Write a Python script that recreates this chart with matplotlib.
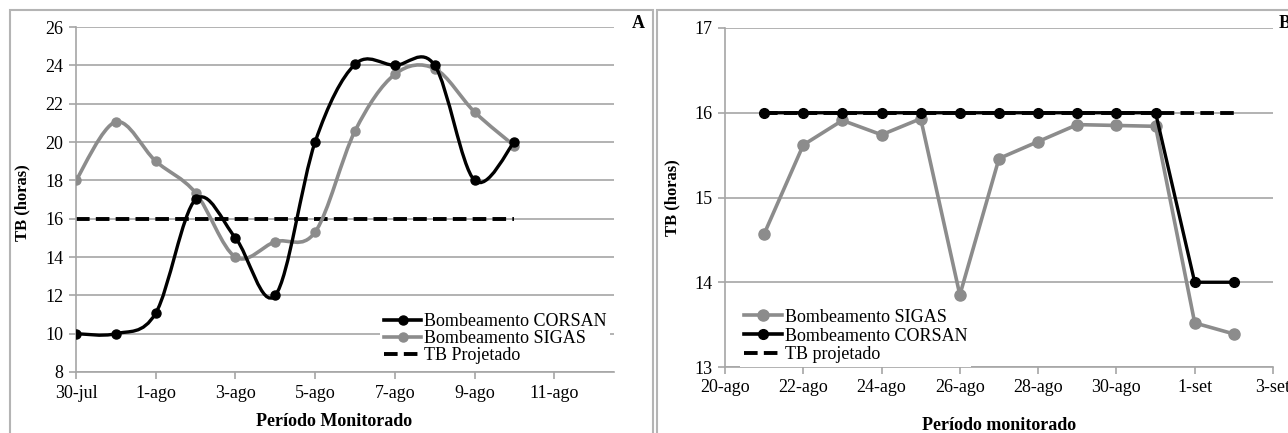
import numpy as np
import matplotlib
matplotlib.use("Agg")
import matplotlib.pyplot as plt
from matplotlib.path import Path
from matplotlib.patches import PathPatch, Rectangle
from matplotlib.lines import Line2D

plt.rcParams["font.family"] = ["Liberation Serif", "DejaVu Serif"]

# Panel A: 30-jul .. 10-ago (day index from 30-jul)
days_a = np.arange(12)
corsan_a = [10, 10, 11.07, 17.0, 15.0, 12.0, 20.0, 24.05, 24.0, 24.0, 18.0, 20.0]
sigas_a = [18.0, 21.05, 19.0, 17.35, 14.0, 14.8, 15.3, 20.57, 23.53, 23.83, 21.57, 19.8]
proj_a = [16] * 12
ticks_a = ["30-jul", "1-ago", "3-ago", "5-ago", "7-ago", "9-ago", "11-ago"]

# Panel B: 21-ago .. 2-set (day index from 20-ago)
days_b = np.arange(1, 14)
sigas_b = [14.57, 15.62, 15.91, 15.74, 15.93, 13.85, 15.46, 15.66, 15.86, 15.85, 15.84, 13.52, 13.39]
corsan_b = [16] * 11 + [14, 14]
proj_b = [16] * 13
ticks_b = ["20-ago", "22-ago", "24-ago", "26-ago", "28-ago", "30-ago", "1-set", "3-set"]

BLACK = "#000000"
GRAY = "#8c8c8c"
GRID = "#a6a6a6"
FS = 13
DASH = (0, (3.5, 1.6))

W, H = 1288, 433
fig = plt.figure(figsize=(W / 100, H / 100), dpi=100)


def box(x0, y0, x1, y1):
    return [x0 / W, 1 - y1 / H, (x1 - x0) / W, (y1 - y0) / H]


def smooth_path(xs, ys):
    # Excel-style smoothed line: cubic Bezier through the points
    pts = np.column_stack([xs, ys]).astype(float)
    n = len(pts)
    verts = [tuple(pts[0])]
    codes = [Path.MOVETO]
    for i in range(n - 1):
        p_prev = pts[i - 1] if i > 0 else pts[i]
        p_next = pts[i + 2] if i + 2 < n else pts[i + 1]
        c1 = pts[i] + (pts[i + 1] - p_prev) / 6.0
        c2 = pts[i + 1] - (p_next - pts[i]) / 6.0
        verts += [tuple(c1), tuple(c2), tuple(pts[i + 1])]
        codes += [Path.CURVE4] * 3
    return Path(verts, codes)


def style_axes(ax):
    for s in ["top", "right"]:
        ax.spines[s].set_visible(False)
    for s in ["left", "bottom"]:
        ax.spines[s].set_color(GRID)
        ax.spines[s].set_linewidth(1.2)
    ax.grid(axis="y", color=GRID, linewidth=1.2)
    ax.set_axisbelow(True)
    ax.tick_params(axis="both", direction="out", length=5, width=1.2, color=GRID,
                   labelsize=FS, pad=4)


# ---- Panel A
ax1 = fig.add_axes(box(76, 27, 614, 372))
style_axes(ax1)
ax1.plot(days_a, proj_a, color=BLACK, lw=2.8, ls=DASH, zorder=2)
ax1.add_patch(PathPatch(smooth_path(days_a, sigas_a), facecolor="none", edgecolor=GRAY, lw=2.6, zorder=3))
ax1.plot(days_a, sigas_a, "o", color=GRAY, ms=6.5, zorder=3)
ax1.add_patch(PathPatch(smooth_path(days_a, corsan_a), facecolor="none", edgecolor=BLACK, lw=2.4, zorder=4))
ax1.plot(days_a, corsan_a, "o", color=BLACK, ms=6.5, zorder=4)
ax1.set_xlim(0, 13.5)
ax1.set_ylim(8, 26)
ax1.set_yticks(np.arange(8, 27, 2))
ax1.set_xticks(np.arange(0, 13, 2))
ax1.set_xticklabels(ticks_a)
ax1.set_xlabel("Período Monitorado", fontsize=FS, fontweight="bold")
ax1.xaxis.set_label_coords(0.48, -0.118)
ax1.set_ylabel("TB (horas)", fontsize=12, fontweight="bold")
ax1.yaxis.set_label_coords(-0.085, 0.49)
h_a = [Line2D([], [], color=BLACK, lw=2.6, marker="o", ms=6.5),
       Line2D([], [], color=GRAY, lw=2.6, marker="o", ms=6.5),
       Line2D([], [], color=BLACK, lw=2.8, ls=DASH)]
leg = ax1.legend(h_a, ["Bombeamento CORSAN", "Bombeamento SIGAS", "TB Projetado"],
                 loc="lower left", bbox_to_anchor=(0.565, 0.012), fontsize=FS,
                 frameon=True, framealpha=1, edgecolor="none", fancybox=False,
                 handlelength=2.1, handletextpad=0.15, labelspacing=0.0,
                 borderpad=0.2, borderaxespad=0)
leg.set_zorder(5)

# ---- Panel B
ax2 = fig.add_axes(box(725, 28, 1273, 367))
style_axes(ax2)
ax2.plot(days_b, proj_b, color=BLACK, lw=2.8, ls=DASH, zorder=2)
ax2.plot(days_b, sigas_b, "-o", color=GRAY, lw=2.6, ms=8, zorder=3)
ax2.plot(days_b, corsan_b, "-o", color=BLACK, lw=2.4, ms=7, zorder=4)
ax2.set_xlim(0, 14)
ax2.set_ylim(13, 17)
ax2.set_yticks(np.arange(13, 18, 1))
ax2.set_xticks(np.arange(0, 15, 2))
ax2.set_xticklabels(ticks_b)
ax2.set_xlabel("Período monitorado", fontsize=FS, fontweight="bold")
ax2.xaxis.set_label_coords(0.5, -0.147)
ax2.set_ylabel("TB (horas)", fontsize=12, fontweight="bold")
ax2.yaxis.set_label_coords(-0.082, 0.5)
h_b = [Line2D([], [], color=GRAY, lw=2.6, marker="o", ms=8),
       Line2D([], [], color=BLACK, lw=2.6, marker="o", ms=7),
       Line2D([], [], color=BLACK, lw=2.8, ls=DASH)]
leg2 = ax2.legend(h_b, ["Bombeamento SIGAS", "Bombeamento CORSAN", "TB projetado"],
                  loc="lower left", bbox_to_anchor=(0.028, 0.0), fontsize=FS,
                  frameon=True, framealpha=1, edgecolor="none", fancybox=False,
                  handlelength=2.1, handletextpad=0.15, labelspacing=0.1,
                  borderpad=0.2, borderaxespad=0)
leg2.set_zorder(5)

# panel labels and frames
fig.text(638 / W, 1 - 23 / H, "A", fontsize=FS, fontweight="bold", ha="center", va="center")
fig.text(1279 / W, 1 - 24 / H, "B", fontsize=FS, fontweight="bold", ha="left", va="center")
fig.patches.append(Rectangle((10 / W, -0.05), (653 - 10) / W, 1.05 - 10 / H,
                             transform=fig.transFigure, fill=False, edgecolor="#b4b4b4", lw=1.5))
fig.patches.append(Rectangle((657 / W, -0.05), 0.5, 1.05 - 10 / H,
                             transform=fig.transFigure, fill=False, edgecolor="#b4b4b4", lw=1.5))

fig.savefig("out.png", dpi=100)
